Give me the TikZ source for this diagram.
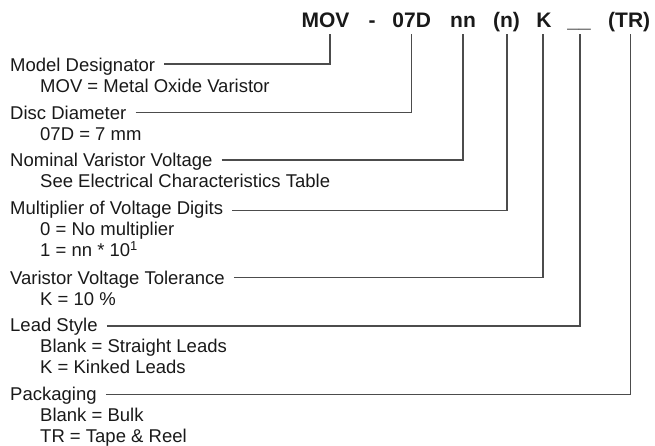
\documentclass[tikz,border=0pt]{standalone}
\usepackage{fontspec}
\setmainfont{Liberation Sans}
\usetikzlibrary{calc}

\tikzset{
  head/.style={anchor=base west, inner sep=0pt, text=black!90,
    font=\fontsize{18.5}{21}\selectfont},
  item/.style={head},
  code/.style={anchor=base, inner sep=0pt, text=black!90,
    font=\fontsize{21}{24}\selectfont\bfseries},
  conn/.style={draw=black!70, line width=1.2pt},
}

\begin{document}
\begin{tikzpicture}[x=1pt, y=-1pt]
\useasboundingbox (0,0) rectangle (655,446);

% First, the part number, one token per node
\node[code] (t1) at (325.5,27.7) {MOV};
\node[code] (dash) at (372,27.7) {-};
\node[code] (t2) at (411.7,27.7) {07D};
\node[code] (t3) at (463,27.7) {nn};
\node[code] (t4) at (506.5,27.7) {(n)};
\node[code] (t5) at (544,27.7) {K};
\node[code] (t6) at (579,27.7) {\_\_};
\node[code] (t7) at (629.2,27.7) {(TR)};

% Then the fields, each with its values below it
\node[head] (hd1) at (10,71.7) {Model Designator};
\node[item] (v11) at (40,92.7) {MOV = Metal Oxide Varistor};

\node[head] (hd2) at (10,119.3) {Disc Diameter};
\node[item] (v21) at (40,140.3) {07D = 7 mm};

\node[head] (hd3) at (10,166.8) {Nominal Varistor Voltage};
\node[item] (v31) at (40,187.8) {See Electrical Characteristics Table};

\node[head] (hd4) at (10,214.3) {Multiplier of Voltage Digits};
\node[item] (v41) at (40,235.3) {0 = No multiplier};
\node[item] (v42) at (40,256.3) {1 = nn * 10\textsuperscript{1}};

\node[head] (hd5) at (10,284.3) {Varistor Voltage Tolerance};
\node[item] (v51) at (40,305.3) {K = 10 \%};

\node[head] (hd6) at (10,331.7) {Lead Style};
\node[item] (v61) at (40,352.7) {Blank = Straight Leads};
\node[item] (v62) at (40,373.7) {K = Kinked Leads};

\node[head] (hd7) at (10,400) {Packaging};
\node[item] (v71) at (40,421) {Blank = Bulk};
\node[item] (v72) at (40,442) {TR = Tape \& Reel};

% Finally the leader lines, from each field up to its token
\foreach \i/\dy/\dx in {1/-7.7/4.5, 2/-7/0, 3/-6.8/0, 4/-3.6/0.5,
                        5/-6.6/-1, 6/-5.7/1, 7/-5.5/1.5} {
  \draw[conn] ($(hd\i.base east)+(9,\dy)$) -| ($(t\i.base)+(\dx,6.3)$);
}

\end{tikzpicture}
\end{document}
